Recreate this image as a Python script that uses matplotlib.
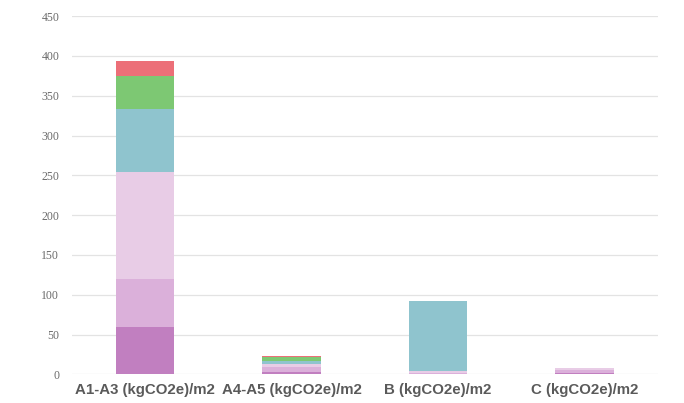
import numpy as np
import matplotlib
matplotlib.use("Agg")
import matplotlib.pyplot as plt

categories = ["A1-A3 (kgCO2e)/m2", "A4-A5 (kgCO2e)/m2", "B (kgCO2e)/m2", "C (kgCO2e)/m2"]

# stacked series, bottom to top
s1 = [60, 3, 0.5, 1.5]
s2 = [60, 6, 1.5, 4.5]
s3 = [134, 4, 2, 1.5]
s4 = [79, 4, 88, 0.5]
s5 = [42, 4.5, 0, 0]
s6 = [19, 1, 0, 0]
series = [s1, s2, s3, s4, s5, s6]
colors = ["#c17fc0", "#dbb0da", "#e8cce6", "#8fc4ce", "#7dc873", "#ec6f78"]

fig = plt.figure(figsize=(6.84, 4.03), dpi=100)
ax = fig.add_axes([0.105, 0.071, 0.857, 0.889])

x = np.arange(len(categories))
bottom = np.zeros(len(categories))
for vals, c in zip(series, colors):
    ax.bar(x, vals, width=0.40, bottom=bottom, color=c, zorder=3)
    bottom += np.array(vals)

ax.set_xlim(-0.5, 3.5)
ax.set_ylim(0, 450)
ax.set_yticks(range(0, 451, 50))
ax.grid(axis="y", color="#e3e3e3", linewidth=0.9, zorder=0)
for s in ax.spines.values():
    s.set_visible(False)
ax.tick_params(axis="both", length=0)
ax.tick_params(axis="y", pad=9)
ax.set_yticklabels([str(v) for v in range(0, 451, 50)], family="Liberation Serif",
                   fontsize=8.5, color="#6b6b6b")
ax.set_xticks(x)
ax.set_xticklabels(categories, family="Liberation Sans", fontweight="bold",
                   fontsize=10.8, color="#5a5a5a")
ax.tick_params(axis="x", pad=6)

fig.savefig("out.png", dpi=100)
